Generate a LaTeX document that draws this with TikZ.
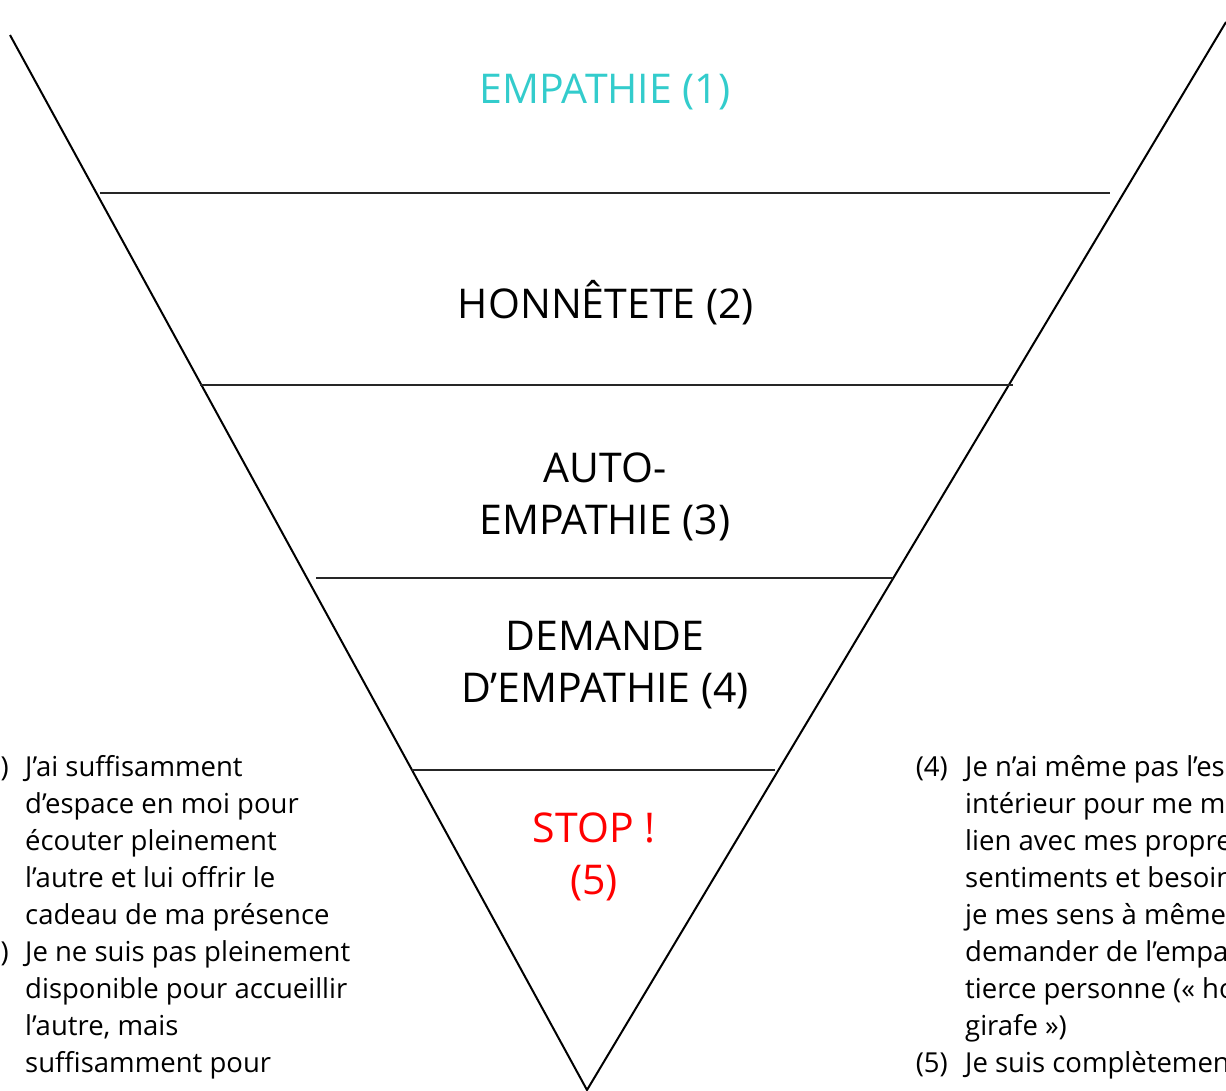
\documentclass[tikz,border=0pt]{standalone}
\usepackage{fontspec}
\setmainfont{Open Sans}
\definecolor{empcyan}{RGB}{51,204,204}
\definecolor{stopred}{RGB}{255,0,0}
\tikzset{
  side/.style={line width=2pt, black},
  level/.style={line width=2pt, black!85},
  big/.style={font=\fontsize{41}{52}\selectfont, inner sep=0pt, align=center},
  small/.style={font=\fontsize{27.5}{37}\selectfont, inner sep=0pt, anchor=base west},
  num/.style={font=\fontsize{27.5}{37}\selectfont, inner sep=0pt, anchor=base east}
}
\begin{document}
\begin{tikzpicture}[x=1pt,y=-1pt]
\useasboundingbox (0,0) rectangle (1226,1090);
\clip (0,0) rectangle (1226,1090);
% triangle sides
\coordinate (tl) at (10,35);
\coordinate (tr) at (1226,22);
\coordinate (ap) at (587,1090);
\draw[side] (tl) -- (ap) -- (tr);
% level lines
\draw[level] (100,193) -- (1110,193);
\draw[level] (200,385) -- (1013,385);
\draw[level] (316,578) -- (893,578);
\draw[level] (412,770) -- (775,770);
% level labels
\node[big, text=empcyan] (l1) at (605,92) {EMPATHIE (1)};
\node[big] (l2) at (606,303) {HONNÊTETE (2)};
\node[big] (l3) at (605,497) {AUTO-\\EMPATHIE (3)};
\node[big] (l4) at (605,665) {DEMANDE\\D’EMPATHIE (4)};
\node[big, text=stopred] (l5) at (594,857) {STOP !\\(5)};
% left notes
\node[num] (n1) at (9,776) {(1)};
\node[num] (n2) at (9,961) {(2)};
\foreach \t [count=\i] in {J’ai suffisamment, d’espace en moi pour, écouter pleinement, l’autre et lui offrir le, cadeau de ma présence, Je ne suis pas pleinement, disponible pour accueillir, {l’autre, mais}, suffisamment pour}
  \node[small] (a\i) at (25,739+37*\i) {\t};
% right notes
\node[num] (n4) at (948,776) {(4)};
\node[num] (n5) at (948,1072) {(5)};
\foreach \t [count=\i] in {Je n’ai même pas l’espace, intérieur pour me mettre en, lien avec mes propres, sentiments et besoins, je mes sens à même de, demander de l’empathie à une, tierce personne (« hotline, girafe »), Je suis complètement}
  \node[small] (b\i) at (965,739+37*\i) {\t};
\end{tikzpicture}
\end{document}
